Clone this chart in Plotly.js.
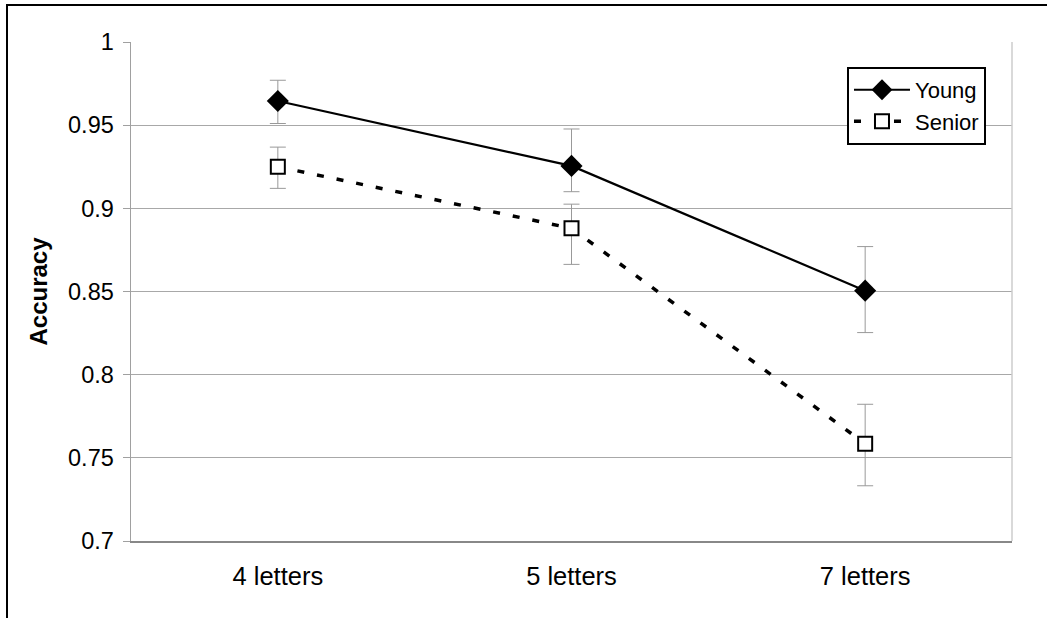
<!DOCTYPE html>
<html>
<head>
<meta charset="utf-8">
<script src="https://cdn.plot.ly/plotly-3.0.1.min.js"></script>
<style>
  html, body { margin: 0; padding: 0; background: #fff; }
  #wrap { position: relative; width: 1047px; height: 618px; }
  #chart { width: 1047px; height: 618px; }
  #frame { position: absolute; left: 6px; top: 4px; width: 1047px; height: 618px;
           border-left: 2px solid #000; border-top: 2px solid #000; pointer-events: none; }
</style>
</head>
<body>
<div id="wrap">
  <div id="chart"></div>
  <div id="frame"></div>
</div>
<script>
const categories = ["4 letters", "5 letters", "7 letters"];
const youngValues = [0.9645, 0.9255, 0.8505];
const youngErrPlus = [0.0125, 0.0222, 0.0265];
const youngErrMinus = [0.0135, 0.0155, 0.0252];
const seniorValues = [0.925, 0.888, 0.7585];
const seniorErrPlus = [0.0118, 0.0145, 0.0237];
const seniorErrMinus = [0.013, 0.0217, 0.0253];
const yTicks = [0.7, 0.75, 0.8, 0.85, 0.9, 0.95, 1];
const yTickLabels = ["0.7", "0.75", "0.8", "0.85", "0.9", "0.95", "1"];

const font = "Liberation Sans, Arial, sans-serif";

const traces = [
  {
    x: categories, y: youngValues, name: "Young", type: "scatter", mode: "lines+markers",
    line: { color: "#000", width: 2.2 },
    marker: { symbol: "diamond", size: 17, color: "#000" },
    error_y: { type: "data", symmetric: false, array: youngErrPlus, arrayminus: youngErrMinus,
               color: "#999", thickness: 1, width: 8 }
  },
  {
    x: categories, y: seniorValues, name: "Senior", type: "scatter", mode: "lines+markers",
    line: { color: "#000", width: 3.5, dash: "7px,13px" },
    marker: { symbol: "square", size: 14, color: "#fff", line: { color: "#000", width: 2 } },
    error_y: { type: "data", symmetric: false, array: seniorErrPlus, arrayminus: seniorErrMinus,
               color: "#999", thickness: 1, width: 8 }
  }
];

const layout = {
  width: 1047, height: 618,
  margin: { l: 131, r: 35, t: 42, b: 77 },
  paper_bgcolor: "#fff", plot_bgcolor: "#fff",
  font: { family: font, size: 21, color: "#000" },
  showlegend: true,
  legend: {
    x: 0.8127, y: 0.95, xanchor: "left", yanchor: "top",
    bordercolor: "#000", borderwidth: 2, bgcolor: "#fff",
    itemwidth: 56,
    font: { family: font, size: 22, color: "#000" }
  },
  xaxis: {
    type: "category", range: [-0.5, 2.5],
    showgrid: false, zeroline: false,
    showline: true, linecolor: "#888", linewidth: 1.5,
    ticks: "outside", ticklen: 12, tickcolor: "rgba(0,0,0,0)",
    tickfont: { family: font, size: 25.5, color: "#000" }
  },
  yaxis: {
    range: [0.7, 1], tickvals: yTicks, ticktext: yTickLabels,
    showgrid: true, gridcolor: "#a8a8a8", gridwidth: 1,
    zeroline: false, showline: true, linecolor: "#a0a0a0", linewidth: 1.5,
    ticks: "outside", ticklen: 7, tickcolor: "#a0a0a0", tickwidth: 1,
    ticklabelstandoff: 4,
    tickfont: { family: font, size: 23.5, color: "#000" },
    title: { text: "<b>Accuracy</b>", font: { family: font, size: 24, color: "#000" }, standoff: 13 }
  },
  shapes: [
    { type: "line", xref: "paper", yref: "paper", x0: 1, x1: 1, y0: 0, y1: 1,
      line: { color: "#cccccc", width: 1.5 } }
  ]
};

Plotly.newPlot("chart", traces, layout, { displayModeBar: false, staticPlot: true });
</script>
</body>
</html>
